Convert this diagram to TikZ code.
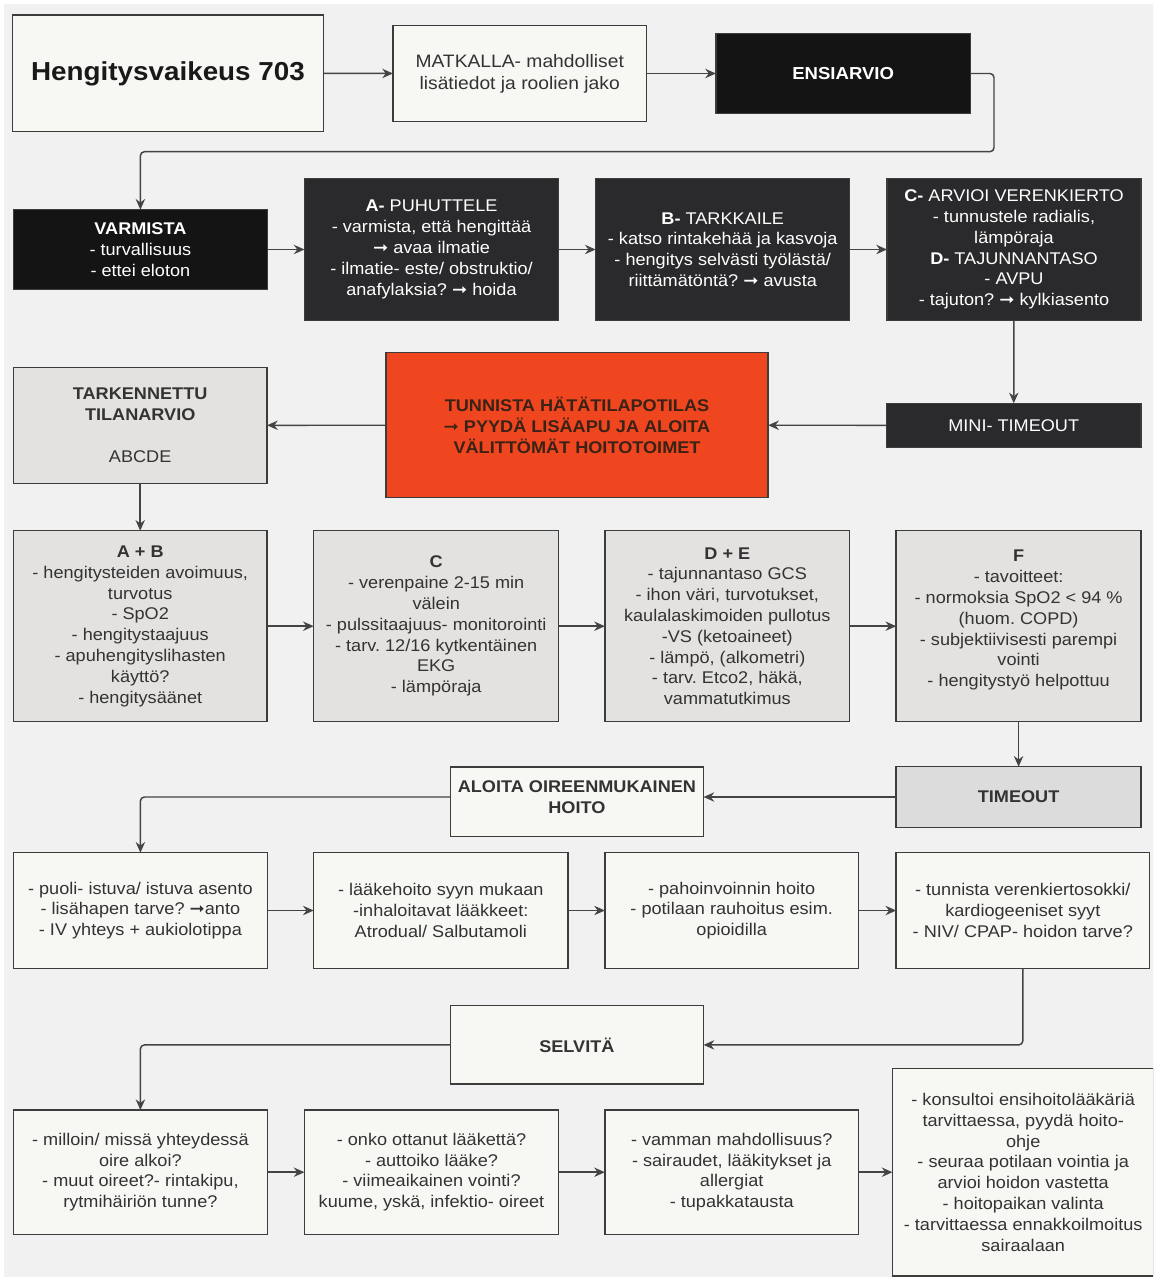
\documentclass[tikz,border=0pt]{standalone}
\usepackage{fontspec}
\setmainfont{Liberation Sans}[FakeStretch=1.07]
\newfontfamily\arrowfont{DejaVu Sans}[FakeStretch=1.07]
\usetikzlibrary{arrows.meta}
\frenchspacing

\definecolor{pagebg}{HTML}{F1F1F1}
\definecolor{paper}{HTML}{F7F8F3}
\definecolor{pale}{HTML}{E3E2E0}
\definecolor{paletime}{HTML}{DCDCDC}
\definecolor{coal}{HTML}{2A2A2C}
\definecolor{night}{HTML}{141414}
\definecolor{alarm}{HTML}{F0461F}
\definecolor{alarmtext}{HTML}{3A2216}
\definecolor{edge}{HTML}{3C3C3C}
\definecolor{wirec}{HTML}{444444}
\definecolor{ink}{HTML}{333333}

\newcommand\bodytext{\fontsize{12.7}{15.6}\selectfont\frenchspacing}
\newcommand\toptext{\fontsize{13.5}{16.3}\selectfont}
\newcommand\titletext{\fontsize{19.5}{23}\selectfont\bfseries}
\newcommand\arr{{\arrowfont\bfseries ➞}}

\begin{document}
\begin{tikzpicture}[x=0.75pt,y=-0.75pt,
  sz/.style 2 args={minimum width=#1*0.75pt, minimum height=#2*0.75pt},
  box/.style={draw=edge, line width=1.1pt, inner sep=0pt, outer sep=0pt,
    align=center, font=\bodytext, text=ink},
  lightbox/.style={box, fill=paper},
  palebox/.style={box, fill=pale},
  darkbox/.style={box, fill=coal, text=white},
  nightbox/.style={box, fill=night, text=white},
  redbox/.style={box, fill=alarm, text=alarmtext, font=\bodytext\bfseries},
  wire/.style={draw=wirec, line width=1.1pt, rounded corners=3pt,
    -{Stealth[length=8pt,width=7pt]}}]

\useasboundingbox (0,0) rectangle (1153,1277);
\clip (0,0) rectangle (1153,1277);
\fill[white] (0,0) rectangle (1153,1277);
\fill[pagebg] (4,4) rectangle (1160,1285);

% --- row 1
\node[lightbox, sz={311}{116.7}, font=\titletext, text=black!90] (title) at (168,73.4) {Hengitysvaikeus 703};
\node[lightbox, sz={253.5}{95.6}, font=\toptext] (matk) at (519.7,73.5) {MATKALLA- mahdolliset\\lisätiedot ja roolien jako};
\node[nightbox, sz={254.5}{79.6}, font=\fontsize{13}{16}\selectfont\bfseries] (ens) at (843.2,73.5) {ENSIARVIO};

% --- row 2: primary survey
\node[nightbox, sz={254.2}{79.6}] (varm) at (140.4,249.5) {\textbf{VARMISTA}\\- turvallisuus\\- ettei eloton};
\node[darkbox, sz={254}{142.4}] (pa) at (431.5,249.5) {\textbf{A-} PUHUTTELE\\- varmista, että hengittää\\\arr{} avaa ilmatie\\- ilmatie- este/ obstruktio/\\anafylaksia? \arr{} hoida};
\node[darkbox, sz={254}{142.4}] (pb) at (722.7,249.5) {\textbf{B-} TARKKAILE\\- katso rintakehää ja kasvoja\\- hengitys selvästi työlästä/\\riittämätöntä? \arr{} avusta};
\node[darkbox, sz={254}{142.4}] (pc) at (1014,249.5) {\textbf{C-} ARVIOI VERENKIERTO\\- tunnustele radialis,\\lämpöraja\\\textbf{D-} TAJUNNANTASO\\- AVPU\\- tajuton? \arr{} kylkiasento};

% --- row 3
\node[darkbox, sz={254.7}{44}] (mini) at (1013.7,425.3) {MINI- TIMEOUT};
\node[redbox, sz={382.3}{145}] (hata) at (577,425.2) {TUNNISTA HÄTÄTILAPOTILAS\\\arr{} PYYDÄ LISÄAPU JA ALOITA\\VÄLITTÖMÄT HOITOTOIMET};
\node[palebox, sz={253.7}{116}] (tark) at (140.2,425.3) {\textbf{TARKENNETTU}\\\textbf{TILANARVIO}\\[15.6pt]ABCDE};

% --- row 4: secondary survey
\node[palebox, sz={253.7}{191}] (ab) at (140.2,626.2) {\textbf{A + B}\\- hengitysteiden avoimuus,\\turvotus\\- SpO2\\- hengitystaajuus\\- apuhengityslihasten\\käyttö?\\- hengitysäänet};
\node[palebox, sz={245}{191}] (cc) at (436.2,626.2) {\textbf{C}\\- verenpaine 2-15 min\\välein\\- pulssitaajuus- monitorointi\\- tarv. 12/16 kytkentäinen\\EKG\\- lämpöraja};
\node[palebox, sz={244.8}{191}] (de) at (727.3,626.2) {\textbf{D + E}\\- tajunnantaso GCS\\- ihon väri, turvotukset,\\kaulalaskimoiden pullotus\\-VS (ketoaineet)\\- lämpö, (alkometri)\\- tarv. Etco2, häkä,\\vammatutkimus};
\node[palebox, sz={244.8}{191}] (ff) at (1018.6,626.2) {\textbf{F}\\- tavoitteet:\\- normoksia SpO2 < 94 \%\\(huom. COPD)\\- subjektiivisesti parempi\\vointi\\- hengitystyö helpottuu\\[-4pt]\mbox{}};

% --- row 5
\node[box, fill=paletime, sz={244.8}{60.6}, font=\bodytext\bfseries] (tout) at (1018.6,797) {TIMEOUT};
\node[lightbox, sz={253.3}{69.7}, font=\bodytext\bfseries] (aloita) at (576.9,801.8) {ALOITA OIREENMUKAINEN\\HOITO\\[-8pt]\mbox{}};

% --- row 6: treatment
\node[lightbox, sz={254.2}{115.6}] (r1) at (140.4,910.5) {- puoli- istuva/ istuva asento\\- lisähapen tarve? \arr anto\\- IV yhteys + aukiolotippa};
\node[lightbox, sz={254.2}{115.6}] (r2) at (440.8,910.5) {- lääkehoito syyn mukaan\\-inhaloitavat lääkkeet:\\Atrodual/ Salbutamoli};
\node[lightbox, sz={253.6}{115.6}] (r3) at (731.7,910.5) {- pahoinvoinnin hoito\\- potilaan rauhoitus esim.\\opioidilla};
\node[lightbox, sz={253.2}{115.6}] (r4) at (1022.8,910.5) {- tunnista verenkiertosokki/\\kardiogeeniset syyt\\- NIV/ CPAP- hoidon tarve?};

% --- row 7
\node[lightbox, sz={253.3}{78.3}, font=\bodytext\bfseries] (selv) at (576.9,1044.9) {SELVITÄ};

% --- row 8: history
\node[lightbox, sz={254.2}{124.3}] (s1) at (140.4,1172.2) {- milloin/ missä yhteydessä\\oire alkoi?\\- muut oireet?- rintakipu,\\rytmihäiriön tunne?};
\node[lightbox, sz={254.1}{124.3}] (s2) at (431.5,1172.2) {- onko ottanut lääkettä?\\- auttoiko lääke?\\- viimeaikainen vointi?\\kuume, yskä, infektio- oireet};
\node[lightbox, sz={253.6}{124.3}] (s3) at (731.7,1172.2) {- vamman mahdollisuus?\\- sairaudet, lääkitykset ja\\allergiat\\- tupakkatausta};
\node[lightbox, sz={261.5}{207.7}] (s4) at (1023.2,1172.2) {- konsultoi ensihoitolääkäriä\\tarvittaessa, pyydä hoito-\\ohje\\- seuraa potilaan vointia ja\\arvioi hoidon vastetta\\- hoitopaikan valinta\\- tarvittaessa ennakkoilmoitus\\sairaalaan};

% --- connectors
\draw[wire] (title) -- (matk);
\draw[wire] (matk) -- (ens);
\coordinate (loopR) at (994,151.7);
\draw[wire] (ens.east) -| (loopR) -| (varm.north);
\draw[wire] (varm) -- (pa);
\draw[wire] (pa) -- (pb);
\draw[wire] (pb) -- (pc);
\draw[wire] (pc) -- (mini);
\draw[wire] (mini) -- (hata);
\draw[wire] (hata) -- (tark);
\draw[wire] (tark) -- (ab);
\draw[wire] (ab) -- (cc);
\draw[wire] (cc) -- (de);
\draw[wire] (de) -- (ff);
\draw[wire] (ff) -- (tout);
\draw[wire] (tout.west) -- (tout.west -| aloita.east);
\coordinate (aloitaOut) at (aloita.west |- tout.west);
\draw[wire] (aloitaOut) -| (r1.north);
\draw[wire] (r1) -- (r2);
\draw[wire] (r2) -- (r3);
\draw[wire] (r3) -- (r4);
\draw[wire] (r4.south) |- (selv.east);
\draw[wire] (selv.west) -| (s1.north);
\draw[wire] (s1) -- (s2);
\draw[wire] (s2) -- (s3);
\draw[wire] (s3) -- (s4.west |- s3.east);
\end{tikzpicture}
\end{document}
